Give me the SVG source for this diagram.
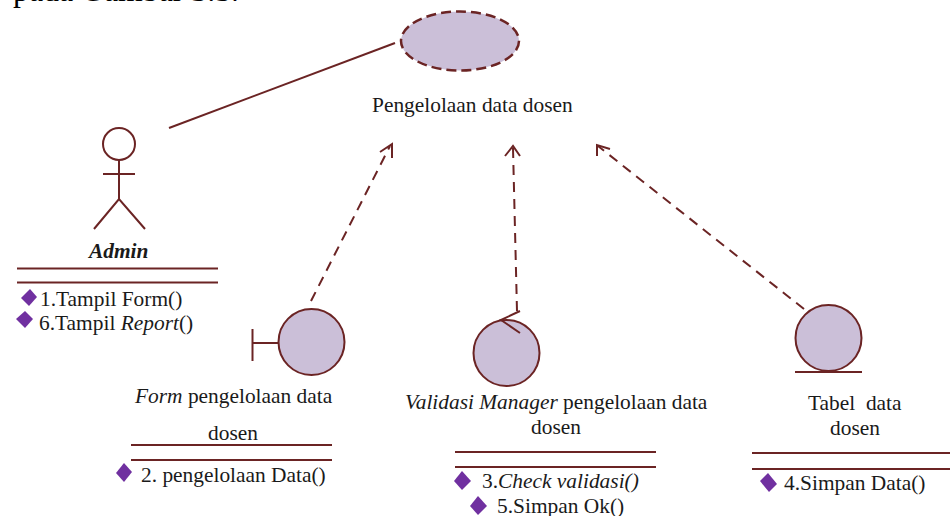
<svg xmlns="http://www.w3.org/2000/svg" width="950" height="516" viewBox="0 0 950 516">
<style>
text{font-family:"Liberation Serif","Times New Roman",serif;font-size:21.4px;fill:#1a1a1a}
.s{fill:none;stroke:#6b2424;stroke-width:2}
.d{fill:none;stroke:#6b2424;stroke-width:2;stroke-dasharray:10 7}
.c{fill:#cbbfd8;stroke:#6b2424;stroke-width:2}
.m{fill:#7030a0}
</style>
<rect width="950" height="516" fill="#ffffff"/>
<text x="13" y="1" style="font-size:31.8px;fill:#000">pada Gambar 3.5.</text>
<g id="connectors">
<line class="s" x1="169" y1="128" x2="395" y2="43"/>
<line class="d" x1="311" y1="301" x2="390" y2="146"/>
<polyline class="s" points="380,152 392,144 392,158"/>
<line class="d" x1="517" y1="311" x2="513" y2="148"/>
<polyline class="s" points="505,156 513,146 520,156"/>
<line class="d" x1="804" y1="309" x2="598" y2="146"/>
<polyline class="s" points="597,156 597,145 610,149"/>
</g>
<g id="usecase">
<ellipse cx="460" cy="41" rx="59" ry="29.500" fill="#cbbfd8" stroke="#6b2424" stroke-width="2.500" stroke-dasharray="10 5"/>
<text x="372" y="112">Pengelolaan data dosen</text>
</g>
<g id="admin">
<circle class="s" cx="119" cy="144" r="16"/>
<line class="s" x1="119" y1="160" x2="119" y2="199"/>
<line class="s" x1="103" y1="174" x2="135" y2="174"/>
<polyline class="s" points="94,229 119,199 145,229"/>
<text x="89" y="258" style="font-weight:bold;font-style:italic">Admin</text>
<line class="s" x1="17" y1="268.500" x2="218" y2="268.500"/>
<line class="s" x1="17" y1="282.500" x2="218" y2="282.500"/>
<polygon class="m" points="30,289 37,297 29,306 21,298"/>
<text x="40" y="306">1.Tampil Form()</text>
<polygon class="m" points="25,311 33,319 25,328 16,319"/>
<text x="39" y="330">6.Tampil <tspan font-style="italic">Report</tspan>()</text>
</g>
<g id="form">
<line class="s" x1="252.500" y1="329" x2="252.500" y2="361"/>
<line class="s" x1="252" y1="343" x2="278" y2="343"/>
<circle class="c" cx="311.500" cy="342" r="33"/>
<text x="135" y="403"><tspan font-style="italic">Form</tspan> pengelolaan data</text>
<text x="208" y="440">dosen</text>
<line class="s" x1="131" y1="445" x2="332" y2="445"/>
<line class="s" x1="131" y1="460" x2="332" y2="460"/>
<polygon class="m" points="124,463 132,472 124,482 116,473"/>
<text x="141" y="482">2. pengelolaan Data()</text>
</g>
<g id="validasi">
<circle class="c" cx="506.500" cy="353" r="33"/>
<polyline class="s" points="520,311 501,320 520,333"/>
<text x="405" y="409"><tspan font-style="italic">Validasi Manager</tspan> pengelolaan data</text>
<text x="531" y="434">dosen</text>
<line class="s" x1="455" y1="452" x2="656" y2="452"/>
<line class="s" x1="455" y1="467" x2="656" y2="467"/>
<polygon class="m" points="462,471 471,481 462,490 454,481"/>
<text x="482" y="488">3.<tspan font-style="italic">Check validasi()</tspan></text>
<polygon class="m" points="478,496 487,506 478,515 470,506"/>
<text x="497" y="513">5.Simpan Ok()</text>
</g>
<g id="tabel">
<circle class="c" cx="828.500" cy="338" r="33"/>
<line class="s" x1="795" y1="372" x2="862" y2="372"/>
<text x="808" y="410" xml:space="preserve">Tabel  data</text>
<text x="830" y="435">dosen</text>
<line class="s" x1="752" y1="453" x2="950" y2="453"/>
<line class="s" x1="752" y1="469" x2="950" y2="469"/>
<polygon class="m" points="768,473 777,484 769,492 760,481"/>
<text x="784" y="490">4.Simpan Data()</text>
</g>
</svg>
